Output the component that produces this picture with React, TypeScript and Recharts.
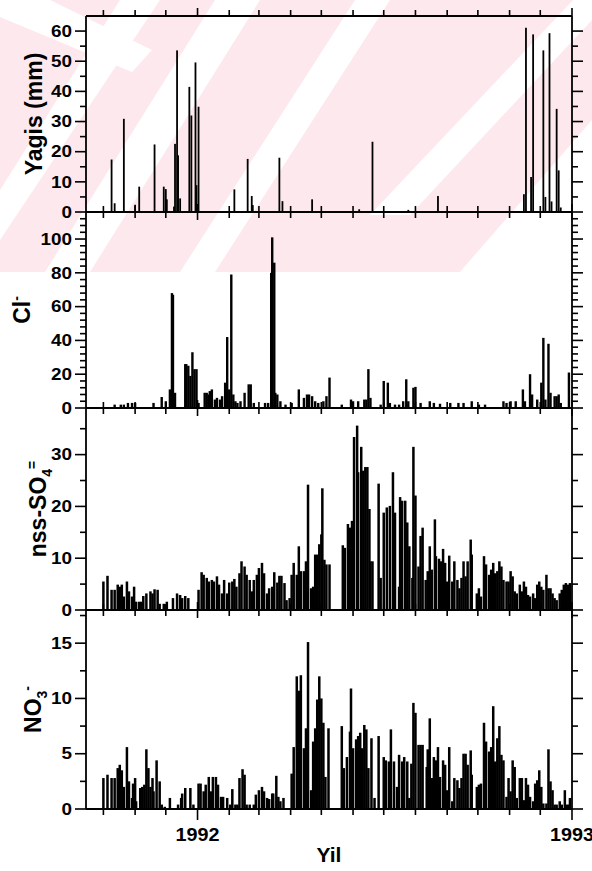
import React from "react";
import { Bar, BarChart, XAxis, YAxis } from "recharts";

const FONT = "'Liberation Sans', Arial, Helvetica, sans-serif";
const INK = "#000";

// x values are days counted from 1 January 1992
const dayDomain: [number, number] = [-109, 366];
const monthTicks = [-92, -61, -31, 0, 31, 60, 91, 121, 152, 182, 213, 244, 274, 305, 335, 366];
const yearTicks = [0, 366];
const yearLabels = ["1992", "1993"];

// daily rainfall (mm)
const rainfall: [number, number][] = [
  [-84, 17.4], [-81, 2.9], [-72, 30.9], [-61, 2.4], [-57, 8.4], [-42, 22.4], [-33, 8.4], [-31, 7.6],
  [-30, 4.2], [-23, 1.8], [-22, 22.6], [-20, 53.6], [-19, 18.8], [-17, 4.5], [-8, 41.5], [-6, 32],
  [-2, 49.6], [-1, 8.9], [1, 34.9], [36, 7.5], [49, 17.6], [53, 5.3], [54, 2.3], [80, 18], [83, 3.6],
  [112, 4.2], [158, 0.9], [171, 23.3], [206, 0.7], [235, 5.3], [319, 5.9], [321, 61.1], [326, 11.6],
  [328, 58.9], [338, 53.6], [340, 5], [344, 59.3], [346, 3.5], [351, 34.2], [353, 13.8], [355, 1.5],
];

// chloride
const chloride: [number, number][] = [
  [-81, 2], [-75, 2], [-72, 2], [-68, 3], [-64, 3], [-61, 3], [-43, 3], [-35, 6.5], [-31, 4], [-27, 11],
  [-25, 68], [-24, 67], [-22, 9], [-12, 26], [-11, 26], [-9, 25], [-7, 19], [-5, 33], [-3, 23], [-1, 23],
  [1, 3], [7, 9], [9, 9], [11, 8], [12, 10], [14, 11], [17, 5], [19, 6], [22, 5], [24, 7], [27, 15],
  [29, 42], [31, 11], [33, 79], [35, 8], [37, 4], [39, 3], [42, 4], [46, 9], [50, 14], [52, 14], [55, 3],
  [66, 3], [69, 3], [72, 80], [73, 101], [75, 86], [76, 9], [78, 8], [81, 4], [86, 2], [92, 3], [99, 11],
  [104, 6], [107, 8], [109, 8], [112, 7], [115, 4], [118, 3], [123, 4], [126, 7], [129, 18], [141, 2],
  [150, 5], [152, 4], [157, 4], [163, 5], [165, 5], [167, 23], [169, 6], [179, 2], [182, 16], [186, 15],
  [188, 3], [193, 2], [197, 2], [201, 4], [204, 17], [206, 4], [211, 12], [213, 12.5], [218, 3], [227, 4],
  [231, 3], [237, 2.5], [247, 3], [255, 3], [260, 3], [268, 4], [275, 2], [281, 2], [299, 4], [302, 3],
  [306, 4], [311, 4], [318, 11], [320, 4], [325, 20], [327, 8], [332, 5], [336, 15], [338, 41.5], [340, 5],
  [343, 38], [345, 9], [349, 7], [351, 7], [353, 8], [355, 3], [363, 21],
];

// non-sea-salt sulphate
const sulfate: [number, number][] = [
  [-92, 5.5], [-88, 6.6], [-84, 3.9], [-81, 3.9], [-78, 4.9], [-76, 4.5], [-74, 4.9], [-72, 2.6], [-69, 5.5],
  [-67, 3.6], [-64, 2.6], [-62, 4.5], [-60, 1.6], [-57, 1.6], [-55, 1.6], [-53, 2.7], [-50, 3.2], [-46, 3.6],
  [-44, 3.2], [-42, 4], [-39, 3.9], [-37, 1.2], [-33, 1.2], [-30, 1.6], [-24, 2.3], [-20, 3.2], [-17, 2.9],
  [-15, 2.3], [-12, 2.7], [-9, 2.3], [1, 3.9], [4, 7.3], [6, 6.8], [9, 6.2], [11, 5.5], [14, 5.8], [16, 5.5],
  [19, 6.5], [21, 4.9], [24, 3.2], [26, 5.8], [29, 3.2], [31, 5.3], [34, 5.5], [36, 6], [38, 4.5], [41, 7.1],
  [43, 9.4], [46, 8.4], [48, 6.8], [51, 5.8], [53, 3.6], [55, 5.8], [58, 6.8], [60, 8.1], [63, 9.1], [65, 7.1],
  [68, 3.2], [70, 4.2], [73, 4.5], [75, 7.3], [78, 5.3], [80, 6.6], [82, 6.6], [85, 5.2], [87, 1.9], [90, 2.3],
  [92, 6.8], [94, 9.1], [97, 6.8], [99, 12.3], [101, 7.5], [104, 7.5], [106, 9.4], [108, 24.2], [111, 4.2],
  [113, 4.5], [115, 10.7], [117, 10.7], [119, 12.7], [121, 14.6], [122, 23.5], [124, 9.7], [126, 8.8],
  [129, 8.8], [142, 12.5], [144, 12], [147, 16.6], [149, 15.9], [151, 17.2], [153, 33.4], [156, 35.6],
  [157, 26.6], [160, 31.5], [162, 26.9], [164, 27.6], [166, 27.6], [168, 19.5], [169, 9.4], [171, 9.4],
  [177, 24.4], [179, 6.2], [182, 18.8], [185, 19.8], [188, 20.1], [191, 26.6], [193, 18.8], [197, 4.5],
  [198, 21.8], [200, 21.1], [203, 21.1], [205, 16.9], [207, 12.3], [210, 6.2], [211, 31.5], [213, 22.1],
  [216, 8.4], [218, 14.3], [220, 15.9], [223, 5.8], [225, 7.5], [227, 12.3], [229, 7.8], [232, 17.5],
  [233, 10.4], [236, 9.9], [238, 9.4], [240, 11.8], [242, 9.1], [244, 5.5], [246, 10.5], [249, 5.5],
  [251, 9.4], [254, 5.8], [256, 4.2], [258, 6.2], [260, 9.4], [262, 6.5], [264, 9.4], [267, 13.6],
  [268, 10.7], [273, 3.2], [275, 4.2], [277, 2.6], [280, 10.4], [282, 8.8], [285, 6.8], [287, 7.8],
  [289, 9.1], [291, 7.1], [293, 7.5], [295, 9.4], [297, 8.4], [299, 5.8], [302, 5.5], [304, 5.5], [306, 7.5],
  [308, 6.5], [310, 3.6], [312, 3.2], [315, 4.9], [317, 3.6], [319, 5.5], [321, 4.5], [323, 2.9], [325, 2.6],
  [328, 3.2], [330, 2.3], [332, 4.9], [334, 5.5], [336, 4.5], [338, 3.9], [341, 6.8], [343, 4.2], [345, 4.2],
  [347, 3.2], [349, 2.3], [351, 1.9], [354, 3.2], [356, 3.9], [358, 4.9], [360, 5.2], [362, 4.9], [364, 5.2],
];

// nitrate
const nitrate: [number, number][] = [
  [-92, 2.8], [-88, 3.1], [-84, 2.8], [-81, 2.8], [-78, 3.7], [-76, 4], [-74, 3.5], [-72, 2], [-69, 5.6],
  [-67, 2.5], [-64, 1], [-63, 2.3], [-61, 2.8], [-60, 0.7], [-56, 1.9], [-54, 2], [-52, 2.2], [-50, 5.4],
  [-48, 3.7], [-46, 2], [-44, 2.8], [-43, 1.6], [-40, 4.4], [-37, 2.5], [-35, 0.4], [-32, 0.2], [-27, 1],
  [-19, 0.4], [-16, 1], [-15, 1.4], [-12, 1.9], [-7, 1.9], [-4, 0.4], [1, 2.3], [3, 2.3], [6, 1.6], [8, 2.2],
  [11, 2.9], [13, 1.6], [15, 2.9], [18, 2.9], [20, 2.2], [23, 1.1], [25, 1.1], [29, 1], [32, 0.4], [34, 1.8],
  [37, 0.4], [39, 0.4], [41, 2.8], [44, 3.6], [46, 3.1], [48, 0.4], [51, 0.4], [55, 0.4], [57, 1.3], [60, 1.7],
  [63, 2], [65, 1.6], [68, 1], [70, 0.9], [73, 1.4], [74, 1.4], [77, 3], [79, 1.1], [81, 0.7], [84, 1],
  [92, 3.2], [94, 5.6], [97, 12], [99, 10.7], [101, 12.1], [104, 5.5], [106, 7.3], [108, 15.1], [111, 1.7],
  [113, 6.1], [115, 7.3], [117, 9.9], [119, 12], [121, 10], [123, 7.8], [125, 2.9], [128, 7.3], [141, 7.5],
  [143, 3.7], [146, 4.7], [149, 7], [150, 10.9], [152, 5.5], [155, 6.3], [157, 6.6], [159, 6.9], [161, 5.5],
  [163, 7.6], [165, 7.2], [167, 3.7], [170, 6.4], [173, 1], [177, 6.6], [182, 4.7], [184, 4.4], [187, 4.3],
  [189, 7.2], [192, 4.3], [195, 2], [197, 4.9], [200, 4.3], [202, 4.7], [205, 4.3], [207, 1], [209, 4.1],
  [211, 9.6], [213, 8.7], [216, 5.8], [218, 5.8], [220, 5.8], [224, 3.8], [225, 5.4], [227, 8.2], [229, 2.8],
  [231, 4.7], [233, 4.4], [235, 5.6], [237, 2.9], [240, 4.4], [242, 4], [244, 1.7], [246, 5.6], [249, 0.7],
  [251, 2.8], [254, 2.6], [256, 1.9], [258, 2.8], [260, 5], [262, 5], [264, 4], [267, 5.3], [268, 3.1],
  [273, 2], [275, 2.2], [277, 2.3], [280, 7.8], [282, 6.1], [285, 5.2], [287, 5.6], [289, 9.3], [291, 4.3],
  [293, 6.4], [295, 7.5], [297, 4.9], [299, 4.4], [302, 1.1], [304, 2.8], [306, 1.6], [308, 4.4], [310, 3.8],
  [312, 1], [315, 2.8], [317, 2.8], [319, 0.8], [321, 2.8], [323, 2.2], [325, 1.1], [328, 0.7], [330, 2.3],
  [332, 2.6], [334, 3.5], [336, 2], [338, 0.5], [341, 0.5], [343, 5.4], [345, 2.5], [347, 1.7], [349, 0.4],
  [351, 0.4], [354, 0.7], [356, 0.4], [359, 1.7], [361, 0.4], [363, 0.4], [364, 1],
];

const rainTicks = [0, 5, 10, 15, 20, 25, 30, 35, 40, 45, 50, 55, 60];
const rainLabels = [0, 10, 20, 30, 40, 50, 60];
const clTicks = [0, 4, 8, 12, 16, 20, 24, 28, 32, 36, 40, 44, 48, 52, 56, 60, 64, 68, 72, 76, 80, 84, 88, 92, 96, 100, 104, 108, 112];
const clLabels = [0, 20, 40, 60, 80, 100];
const so4Ticks = [0, 5, 10, 15, 20, 25, 30, 35];
const so4Labels = [0, 10, 20, 30];
const no3Ticks = [0, 2.5, 5, 7.5, 10, 12.5, 15, 17.5];
const no3Labels = [0, 5, 10, 15];

const axisLine = { stroke: INK, strokeWidth: 1.8 };

function YTick(props: any) {
  const { x, y, payload, side, labels } = props;
  const major = labels.includes(payload.value);
  const len = major ? 11 : 6;
  const dir = side === "left" ? -1 : 1;
  const label = String(payload.value);
  return (
    <g>
      <line x1={x} x2={x + dir * len} y1={y} y2={y} stroke={INK} strokeWidth={1.6} />
      {side === "left" && major ? (
        <text
          x={x - 14}
          y={y}
          dy="0.36em"
          textAnchor="end"
          fontFamily={FONT}
          fontWeight="bold"
          fontSize={16}
          fill={INK}
          textLength={label.length * 10.5}
          lengthAdjust="spacingAndGlyphs"
        >
          {label}
        </text>
      ) : null}
    </g>
  );
}

function XTick(props: any) {
  const { x, y, payload, side, showLabels } = props;
  const idx = yearTicks.indexOf(payload.value);
  const len = idx >= 0 ? 11 : 6;
  const dir = side === "top" ? -1 : 1;
  return (
    <g>
      <line x1={x} x2={x} y1={y} y2={y + dir * len} stroke={INK} strokeWidth={1.6} />
      {showLabels && idx >= 0 ? (
        <text
          x={x}
          y={y + 32}
          textAnchor="middle"
          fontFamily={FONT}
          fontWeight="bold"
          fontSize={19}
          fill={INK}
          textLength={44}
          lengthAdjust="spacingAndGlyphs"
        >
          {yearLabels[idx]}
        </text>
      ) : null}
    </g>
  );
}

function Spike(props: any) {
  const { x, y, width, height, w } = props;
  if (height == null || height <= 0) return null;
  const cx = x + (width || 0) / 2;
  return <rect x={cx - w / 2} y={y} width={w} height={height} fill={INK} />;
}

function AxisTitle(props: any) {
  const { viewBox, cx, parts } = props;
  const vb = viewBox || { y: 0, height: 0 };
  const cy = vb.y + vb.height / 2;
  return (
    <text
      x={cx}
      y={cy}
      transform={`rotate(-90 ${cx} ${cy})`}
      textAnchor="middle"
      fontFamily={FONT}
      fontWeight="bold"
      fontSize={23}
      fill={INK}
    >
      {parts.map((p: any, i: number) => (
        <tspan key={i} dy={p.dy || 0} fontSize={p.size || 23}>
          {p.t}
        </tspan>
      ))}
    </text>
  );
}

type PanelProps = {
  series: [number, number][];
  top: number;
  plotH: number;
  max: number;
  ticks: number[];
  labels: number[];
  parts: { t: string; dy?: number; size?: number }[];
  titleX: number;
  barW: number;
  last?: boolean;
};

function Panel({ series, top, plotH, max, ticks, labels, parts, titleX, barW, last }: PanelProps) {
  const rows = series.map(([day, v]) => ({ day, v }));
  const bottomH = last ? 62 : 8;
  return (
    <div style={{ position: "absolute", left: 0, top: top - 8 }}>
      <BarChart width={592} height={plotH + 8 + bottomH} data={rows} margin={{ top: 0, right: 0, bottom: 0, left: 0 }}>
        <XAxis
          xAxisId="top"
          orientation="top"
          dataKey="day"
          type="number"
          domain={dayDomain}
          ticks={monthTicks}
          interval={0}
          height={8}
          tickSize={0}
          tickMargin={0}
          axisLine={axisLine}
          tickLine={false}
          tick={<XTick side="top" showLabels={false} />}
          allowDataOverflow
        />
        <XAxis
          xAxisId="bottom"
          orientation="bottom"
          dataKey="day"
          type="number"
          domain={dayDomain}
          ticks={monthTicks}
          interval={0}
          height={bottomH}
          tickSize={0}
          tickMargin={0}
          axisLine={axisLine}
          tickLine={false}
          tick={<XTick side="bottom" showLabels={!!last} />}
          allowDataOverflow
          label={
            last
              ? { value: "Yil", position: "insideBottom", offset: 9, fill: INK, fontSize: 21, fontWeight: "bold", fontFamily: FONT }
              : undefined
          }
        />
        <YAxis
          yAxisId="left"
          orientation="left"
          width={86}
          type="number"
          domain={[0, max]}
          ticks={ticks}
          interval={0}
          tickSize={0}
          tickMargin={0}
          axisLine={axisLine}
          tickLine={false}
          tick={<YTick side="left" labels={labels} />}
          allowDataOverflow
          label={<AxisTitle cx={titleX} parts={parts} />}
        />
        <YAxis
          yAxisId="right"
          orientation="right"
          width={20}
          type="number"
          domain={[0, max]}
          ticks={ticks}
          interval={0}
          tickSize={0}
          tickMargin={0}
          axisLine={axisLine}
          tickLine={false}
          tick={<YTick side="right" labels={labels} />}
          allowDataOverflow
        />
        <Bar
          xAxisId="bottom"
          yAxisId="left"
          dataKey="v"
          fill={INK}
          isAnimationActive={false}
          shape={(p: any) => <Spike {...p} w={barW} />}
        />
      </BarChart>
    </div>
  );
}

function Watermark() {
  return (
    <svg width={592} height={272} style={{ position: "absolute", left: 0, top: 0 }}>
      <rect x={0} y={0} width={592} height={272} fill="#fde9ed" />
      <polygon points="0,0 50,0 152,50 132,72 0,17" fill="#fff" />
      <polygon points="0,190 0,240 160,0 120,0" fill="#fff" />
      <polygon points="45,272 90,272 260,0 215,0" fill="#fff" />
      <polygon points="180,272 215,272 390,0 355,0" fill="#fff" />
      <polygon points="370,215 410,215 592,20 592,-20" fill="#fff" />
      <polygon points="460,272 592,272 592,120" fill="#fff" />
    </svg>
  );
}

export default function App() {
  return (
    <div style={{ position: "absolute", left: 0, top: 0, width: 592, height: 871, background: "#fff", overflow: "hidden" }}>
      <Watermark />
      <Panel
        series={rainfall}
        top={16}
        plotH={196}
        max={65}
        ticks={rainTicks}
        labels={rainLabels}
        parts={[{ t: "Yagis (mm)" }]}
        titleX={42}
        barW={1.8}
      />
      <Panel
        series={chloride}
        top={212}
        plotH={196}
        max={116}
        ticks={clTicks}
        labels={clLabels}
        parts={[{ t: "Cl" }, { t: "-", dy: -9, size: 14 }]}
        titleX={30}
        barW={2.4}
      />
      <Panel
        series={sulfate}
        top={408}
        plotH={202}
        max={39}
        ticks={so4Ticks}
        labels={so4Labels}
        parts={[{ t: "nss-SO" }, { t: "4", dy: 6, size: 14 }, { t: "=", dy: -15, size: 14 }]}
        titleX={46}
        barW={2.5}
      />
      <Panel
        series={nitrate}
        top={610}
        plotH={199}
        max={18}
        ticks={no3Ticks}
        labels={no3Labels}
        parts={[{ t: "NO" }, { t: "3", dy: 6, size: 14 }, { t: "-", dy: -15, size: 14 }]}
        titleX={41}
        barW={2.5}
        last
      />
    </div>
  );
}
